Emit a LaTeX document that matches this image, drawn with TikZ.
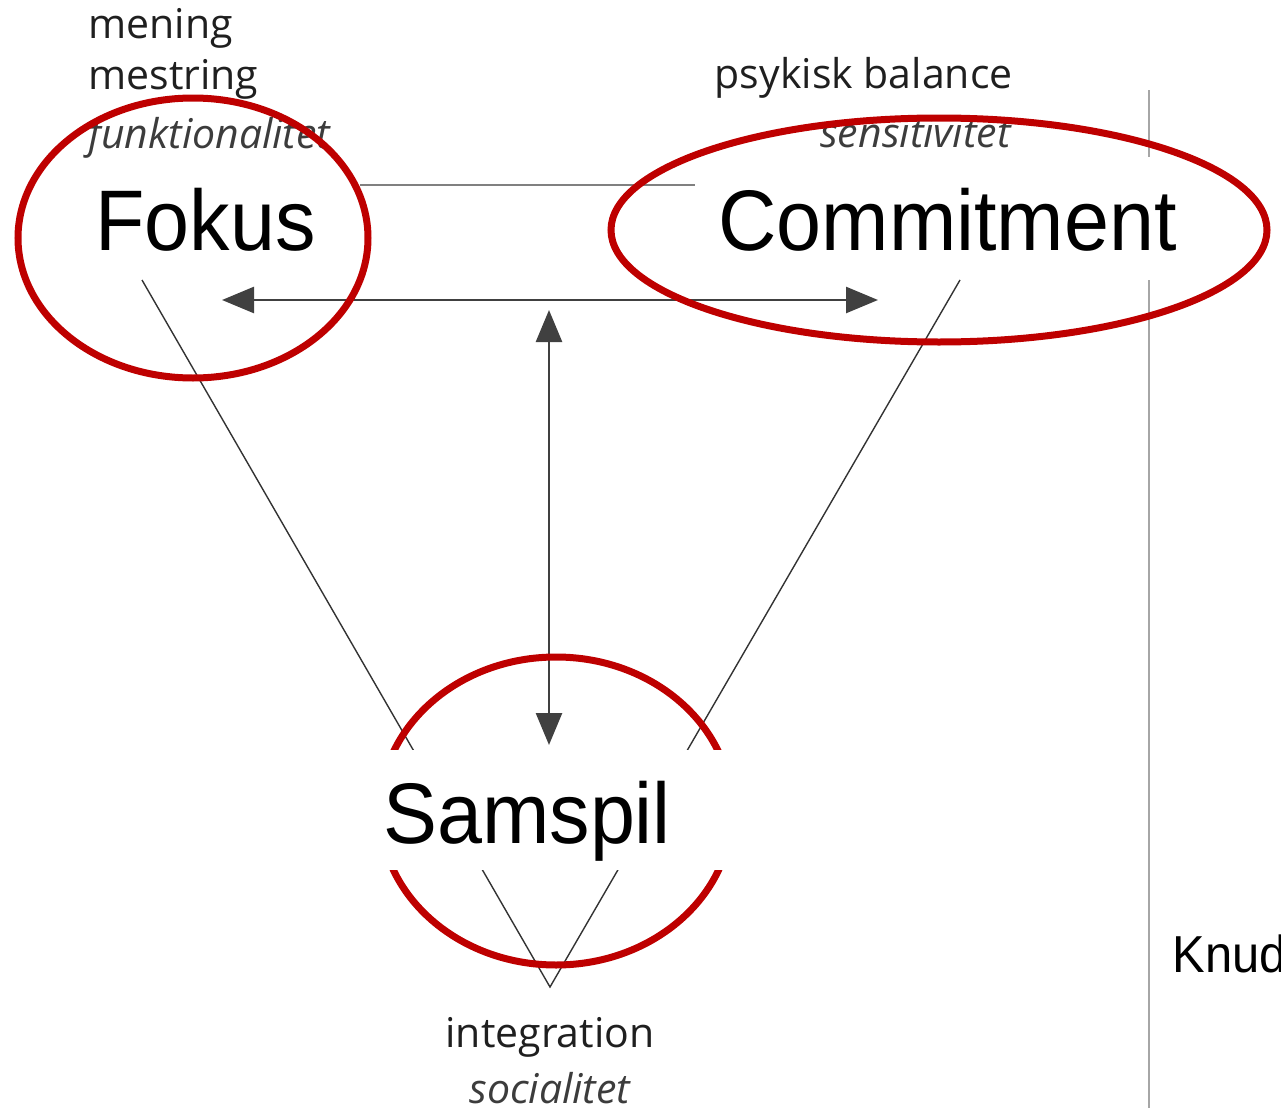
\documentclass[tikz,border=0pt]{standalone}
\usepackage{fontspec}
\setmainfont{Open Sans}
\newfontfamily\headfont[FakeStretch=0.94]{Liberation Sans}
\usetikzlibrary{arrows.meta}
\definecolor{ringred}{RGB}{190,0,0}
\definecolor{inkgray}{RGB}{60,60,60}

\tikzset{
  ring/.style={draw=ringred, line width=3.5pt},
  keyword/.style={font=\headfont\fontsize{43}{48}\selectfont, inner sep=0pt, anchor=base west},
  smalltext/.style={font=\fontsize{20.5}{24}\selectfont, inner sep=0pt, text=black!88},
  softtext/.style={font=\itshape\fontsize{20.5}{24}\selectfont, inner sep=0pt, text=inkgray},
  link/.style={line width=1.3pt, draw=black!75, {Triangle[length=16pt,width=13pt]}-{Triangle[length=16pt,width=13pt]}},
}

\begin{document}
\begin{tikzpicture}[x=0.5pt, y=-0.5pt]
            \useasboundingbox (0,0) rectangle (1281,1108);

            % rule on the right and top bar
            \draw[black!35, line width=0.7pt] (1149,90) -- (1149,157);
            \draw[black!35, line width=0.7pt] (1149,280) -- (1149,1108);
            \draw[black!50, line width=1.2pt] (360,185) -- (695,185);

            % the V
            \coordinate (vleft) at (142,280);
            \coordinate (vright) at (960,280);
            \coordinate (vtip) at (550,987);
            \draw[black!80, line width=0.7pt] (vleft) -- (vtip) -- (vright);

            % arrows
            \coordinate (hleft) at (222,300);
            \coordinate (hright) at (878,300);
            \coordinate (vtop) at (549,310);
            \coordinate (vbottom) at (549,745);
            \draw[link] (hleft) -- (hright);
            \draw[link] (vtop) -- (vbottom);

            % Samspil ring sits behind its box
            \draw[ring] (556,811) ellipse [x radius=176, y radius=154];
            \fill[white] (372,750) rectangle (742,870);
            \node[keyword] (samspil) at (383,843) {Samspil};

            \node[keyword] (fokus) at (95,250) {Fokus};
            \node[keyword] (commitment) at (718,250) {Commitment};

            % small texts
            \node[smalltext, anchor=base west] (mening) at (88,39) {mening};
            \node[smalltext, anchor=base west] (mestring) at (88,89) {mestring};
            \node[softtext, anchor=base west] (funktion) at (88,148) {funktionalitet};
            \node[smalltext, anchor=base east] (psykisk) at (1013,88) {psykisk balance};
            \node[softtext, anchor=base east] (sensitiv) at (1011,147) {sensitivitet};
            \node[smalltext, anchor=base] (integration) at (550,1047) {integration};
            \node[softtext, anchor=base] (social) at (550,1103) {socialitet};
            \node[font=\headfont\fontsize{26}{30}\selectfont, inner sep=0pt, anchor=base west] (knud) at (1172,972) {Knud};

            % rings on top
            \draw[ring] (193,238) ellipse [x radius=175, y radius=140];
            \draw[ring] (939,230) ellipse [x radius=328, y radius=112];
        \end{tikzpicture}
\end{document}
